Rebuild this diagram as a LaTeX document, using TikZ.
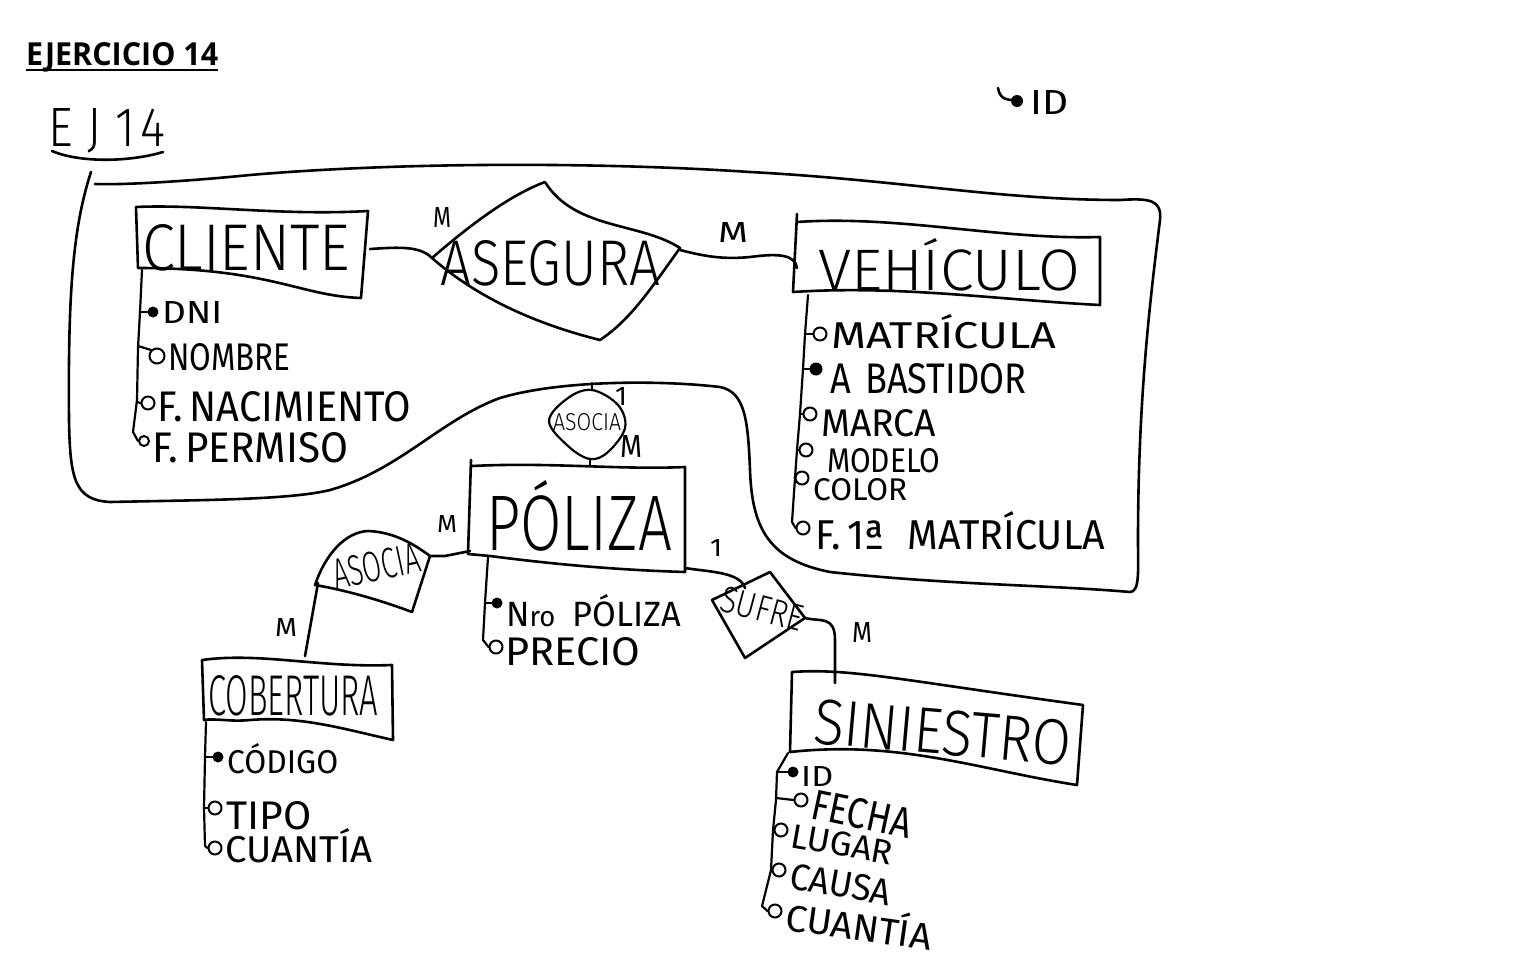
\documentclass[tikz,border=0pt]{standalone}
\usepackage{fontspec}
\usepackage{graphicx}
\newfontfamily\handfont{Fira Sans}[UprightFont=* Light]
\newfontfamily\handreg{Fira Sans}
\newfontfamily\headfont{Open Sans}
\newcommand\hwt[3]{\resizebox{#1pt}{#2pt}{\handfont #3}}
\newcommand\hwr[3]{\resizebox{#1pt}{#2pt}{\handreg #3}}
\tikzset{
  hand/.style={line width=2.6pt, line cap=round, line join=round},
  thinhand/.style={line width=2.2pt, line cap=round, line join=round},
  lbl/.style={inner sep=0pt, anchor=base west},
  oatt/.style={draw, circle, line width=2pt, inner sep=0pt, minimum size=13pt, fill=white},
  katt/.style={circle, fill=black, inner sep=0pt, minimum size=11pt},
}
\begin{document}
\begin{tikzpicture}[x=1pt,y=-1pt]
\fill[white] (0,0) rectangle (1536,964);
\useasboundingbox (0,0) rectangle (1536,964);

% header
\node[lbl] (title) at (26,65) {\resizebox{192pt}{23pt}{\headfont\bfseries EJERCICIO 14}};
\draw[line width=2pt] (26,70) -- (218,70);
\node[lbl] (ej) at (48,146) {\hwt{117}{38}{E\kern3pt J\kern3pt 1\kern1pt 4}};
\draw[hand] (52,151) .. controls (80,163) and (130,162) .. (163,152);

% top right ID
\draw[hand] (998,88) .. controls (1000,100) and (1008,100) .. (1014,100);
\node[katt, minimum size=12pt] (idk) at (1017,101) {};
\node[lbl] (idtop) at (1030,114) {\hwr{38}{24}{ID}};

% aggregation boundary
\draw[hand] (91,172) .. controls (72,230) and (68,300) .. (69,420)
  .. controls (70,480) and (75,500) .. (110,502)
  .. controls (200,500) and (290,500) .. (330,490)
  .. controls (400,470) and (440,420) .. (500,398)
  .. controls (560,380) and (660,380) .. (720,387)
  .. controls (745,392) and (748,420) .. (750,470)
  .. controls (752,530) and (770,560) .. (830,572)
  .. controls (950,585) and (1050,585) .. (1130,592)
  .. controls (1140,592) and (1138,570) .. (1138,540)
  .. controls (1138,400) and (1150,300) .. (1160,220)
  .. controls (1162,200) and (1150,198) .. (1120,200)
  .. controls (1000,200) and (900,180) .. (750,172)
  .. controls (600,162) and (400,162) .. (250,175)
  .. controls (180,182) and (120,185) .. (95,184);

% CLIENTE
\draw[hand] (136,207) .. controls (200,204) and (280,216) .. (368,211) -- (361,298)
  .. controls (300,296) and (270,268) .. (138,268) -- cycle;
\node[lbl] (cliente) at (142,270) {\hwt{208}{46}{CLIENTE}};
\coordinate (cli-e) at (370,249);
\coordinate (cli-s) at (142,270);

% ASEGURA
\draw[hand] (432,258) .. controls (470,225) and (510,195) .. (545,182)
  .. controls (575,230) and (640,222) .. (680,248)
  .. controls (650,290) and (630,320) .. (600,340)
  .. controls (540,325) and (480,300) .. (432,258) -- cycle;
\node[lbl] (asegura) at (440,285) {\hwt{220}{45}{ASEGURA}};
\coordinate (ase-w) at (432,258);
\coordinate (ase-e) at (680,250);

% VEHICULO
\draw[hand] (797,222) .. controls (900,215) and (1000,240) .. (1100,237) -- (1100,305)
  .. controls (1000,300) and (900,285) .. (793,292) -- (797,214);
\node[lbl] (vehiculo) at (818,290) {\hwt{262}{52}{VEHÍCULO}};
\coordinate (veh-w) at (797,268);
\coordinate (veh-s) at (808,295);

% connectors CLIENTE-ASEGURA-VEHICULO
\draw[hand] (cli-e) .. controls (400,247) and (420,246) .. (ase-w);
\draw[hand] (ase-e) .. controls (700,255) and (720,260) .. (750,257)
  .. controls (780,253) and (795,255) .. (veh-w);
\node[lbl] (m1) at (433,227) {\hwr{18}{20}{M}};
\node[lbl] (m2) at (718,242) {\hwr{30}{20}{M}};

% ASOCIA (top)
\draw[thinhand] plot[smooth cycle, tension=0.6] coordinates {(592,390) (618,405) (625,428) (608,452) (590,459) (568,446) (549,421) (568,398)};
\node[lbl] (asoc1) at (553,430) {\hwt{68}{17}{ASOCIA}};
\coordinate (aso1-n) at (592,390);
\coordinate (aso1-s) at (590,459);
\coordinate (agg-b) at (592,383);
\draw[thinhand] (agg-b) -- (aso1-n);
\node[lbl] (one1) at (615,405) {\hwr{12}{18}{1}};
\node[lbl] (m3) at (620,457) {\hwr{22}{22}{M}};

% POLIZA
\draw[hand] (472,466) .. controls (550,462) and (620,470) .. (685,467) -- (685,572)
  .. controls (620,570) and (560,565) .. (490,556) -- (468,554) -- (471,460);
\node[lbl] (poliza) at (486,550) {\hwt{186}{70}{PÓLIZA}};
\coordinate (pol-n) at (590,466);
\coordinate (pol-w) at (470,551);
\coordinate (pol-e) at (685,568);
\coordinate (pol-s) at (488,557);
\draw[thinhand] (aso1-s) -- (pol-n);

% ASOCIA (left)
\draw[hand] (315,585) .. controls (325,555) and (345,532) .. (368,531)
  .. controls (395,532) and (415,545) .. (430,556)
  -- (412,612) .. controls (380,600) and (345,590) .. (315,585) -- cycle;
\node[lbl, rotate=12] (asoc2) at (336,590) {\hwt{88}{30}{ASOCIA}};
\coordinate (aso2-e) at (430,556);
\coordinate (aso2-w) at (318,583);
\draw[hand] (pol-w) -- (445,556) -- (aso2-e);
\node[lbl] (m4) at (437,532) {\hwr{20}{17}{M}};

% COBERTURA
\draw[hand] (202,660) .. controls (260,652) and (320,668) .. (392,665) -- (393,740)
  .. controls (340,728) and (300,716) .. (250,720) .. controls (230,722) and (215,718) .. (204,720) -- cycle;
\node[lbl] (cobertura) at (208,715) {\hwt{170}{40}{COBERTURA}};
\coordinate (cob-n) at (305,656);
\coordinate (cob-s) at (206,722);
\draw[hand] (aso2-w) -- (cob-n);
\node[lbl] (m5) at (275,636) {\hwr{22}{18}{M}};

% SUFRE
\draw[hand] (712,600) -- (770,572) -- (805,618) -- (745,658) -- cycle;
\node[lbl, rotate=-15] (sufre) at (718,610) {\hwt{84}{26}{SUFRE}};
\coordinate (suf-n) at (745,588);
\coordinate (suf-e) at (805,618);
\draw[hand] (pol-e) .. controls (710,572) and (740,572) .. (suf-n);
\node[lbl] (one2) at (710,556) {\hwr{12}{17}{1}};

% SINIESTRO
\draw[hand] (792,672) .. controls (850,668) and (900,680) .. (1083,705) -- (1077,785)
  .. controls (980,770) and (900,740) .. (790,752) -- cycle;
\node[lbl, rotate=-5] (siniestro) at (812,743) {\hwt{258}{45}{SINIESTRO}};
\coordinate (sin-n) at (835,683);
\coordinate (sin-s) at (788,753);
\draw[hand] (suf-e) .. controls (820,622) and (835,615) .. (835,640) -- (sin-n);
\node[lbl] (m6) at (852,642) {\hwr{20}{20}{M}};

% CLIENTE attributes
\node[katt] (a1) at (153,312) {};
\node[oatt, minimum size=15pt] (a2) at (157,356) {};
\node[oatt] (a3) at (148,403) {};
\node[oatt, minimum size=10pt] (a4) at (144,441) {};
\draw[thinhand] (cli-s) -- (140,312) -- (138,348) -- (137,400) -- (133,432) -- (a4.west);
\draw[thinhand] (140,312) -- (a1.west);
\draw[thinhand] (138,346) -- (a2.north west);
\draw[thinhand] (137,402) -- (a3.west);
\node[lbl] (t-dni) at (162,323) {\hwr{60}{22}{DNI}};
\node[lbl] (t-nombre) at (168,370) {\hwr{122}{27}{NOMBRE}};
\node[lbl] (t-fnac) at (157,421) {\hwr{254}{30}{F.\,NACIMIENTO}};
\node[lbl] (t-fper) at (152,462) {\hwr{196}{30}{F.\,PERMISO}};

% VEHICULO attributes
\node[oatt] (b1) at (820,334) {};
\node[katt, minimum size=13pt] (b2) at (816,369) {};
\node[oatt] (b3) at (810,414) {};
\node[oatt] (b4) at (806,450) {};
\node[oatt] (b5) at (802,478) {};
\node[oatt] (b6) at (803,528) {};
\draw[thinhand] (veh-s) -- (805,334) -- (803,369) -- (800,414) -- (797,450) -- (795,478) -- (792,522) -- (b6.west);
\draw[thinhand] (805,334) -- (b1.west);
\draw[thinhand] (803,369) -- (b2.west);
\draw[thinhand] (800,414) -- (b3.west);
\draw[thinhand] (797,450) -- (b4.west);
\draw[thinhand] (795,478) -- (b5.west);
\node[lbl] (t-matr) at (831,348) {\hwr{225}{34}{MATRÍCULA}};
\node[lbl] (t-bast) at (830,393) {\hwr{196}{30}{A\kern4pt BASTIDOR}};
\node[lbl] (t-marca) at (821,436) {\hwr{115}{27}{MARCA}};
\node[lbl] (t-modelo) at (827,472) {\hwr{113}{24}{MODELO}};
\node[lbl] (t-color) at (813,500) {\hwr{94}{22}{COLOR}};
\node[lbl] (t-fmat) at (815,549) {\hwr{290}{38}{F.\,1ª\kern6pt MATRÍCULA}};

% POLIZA attributes
\node[katt] (p1) at (497,603) {};
\node[oatt] (p2) at (496,647) {};
\draw[thinhand] (pol-s) -- (485,603) -- (483,640) -- (p2.west);
\draw[thinhand] (485,603) -- (p1.west);
\node[lbl] (t-nro) at (506,626) {\hwr{175}{32}{N{\footnotesize ro}\kern5pt PÓLIZA}};
\node[lbl] (t-precio) at (505,665) {\hwr{135}{28}{PRECIO}};

% COBERTURA attributes
\node[katt] (c1) at (218,757) {};
\node[oatt] (c2) at (215,808) {};
\node[oatt] (c3) at (215,848) {};
\draw[thinhand] (cob-s) -- (205,757) -- (204,808) -- (205,846) -- (c3.west);
\draw[thinhand] (205,757) -- (c1.west);
\draw[thinhand] (204,808) -- (c2.west);
\node[lbl] (t-cod) at (227,773) {\hwr{111}{30}{CÓDIGO}};
\node[lbl] (t-tipo) at (226,829) {\hwr{85}{28}{TIPO}};
\node[lbl] (t-cuan1) at (225,862) {\hwr{147}{34}{CUANTÍA}};

% SINIESTRO attributes
\node[katt] (s1) at (793,772) {};
\node[oatt] (s2) at (801,800) {};
\node[oatt] (s3) at (781,830) {};
\node[oatt] (s4) at (779,870) {};
\node[oatt] (s5) at (775,911) {};
\draw[thinhand] (sin-s) -- (777,772) -- (776,800) -- (773,830) -- (771,870) -- (762,906) -- (s5.west);
\draw[thinhand] (777,772) -- (s1.west);
\draw[thinhand] (776,798) -- (s2.west);
\draw[thinhand] (773,830) -- (s3.west);
\draw[thinhand] (771,870) -- (s4.west);
\node[lbl] (t-id) at (801,786) {\hwr{32}{20}{ID}};
\node[lbl, rotate=-12] (t-fecha) at (809,818) {\hwr{101}{30}{FECHA}};
\node[lbl, rotate=-10] (t-lugar) at (789,847) {\hwr{103}{24}{LUGAR}};
\node[lbl, rotate=-10] (t-causa) at (788,888) {\hwr{102}{26}{CAUSA}};
\node[lbl, rotate=-8] (t-cuan2) at (784,930) {\hwr{147}{34}{CUANTÍA}};
\end{tikzpicture}
\end{document}
